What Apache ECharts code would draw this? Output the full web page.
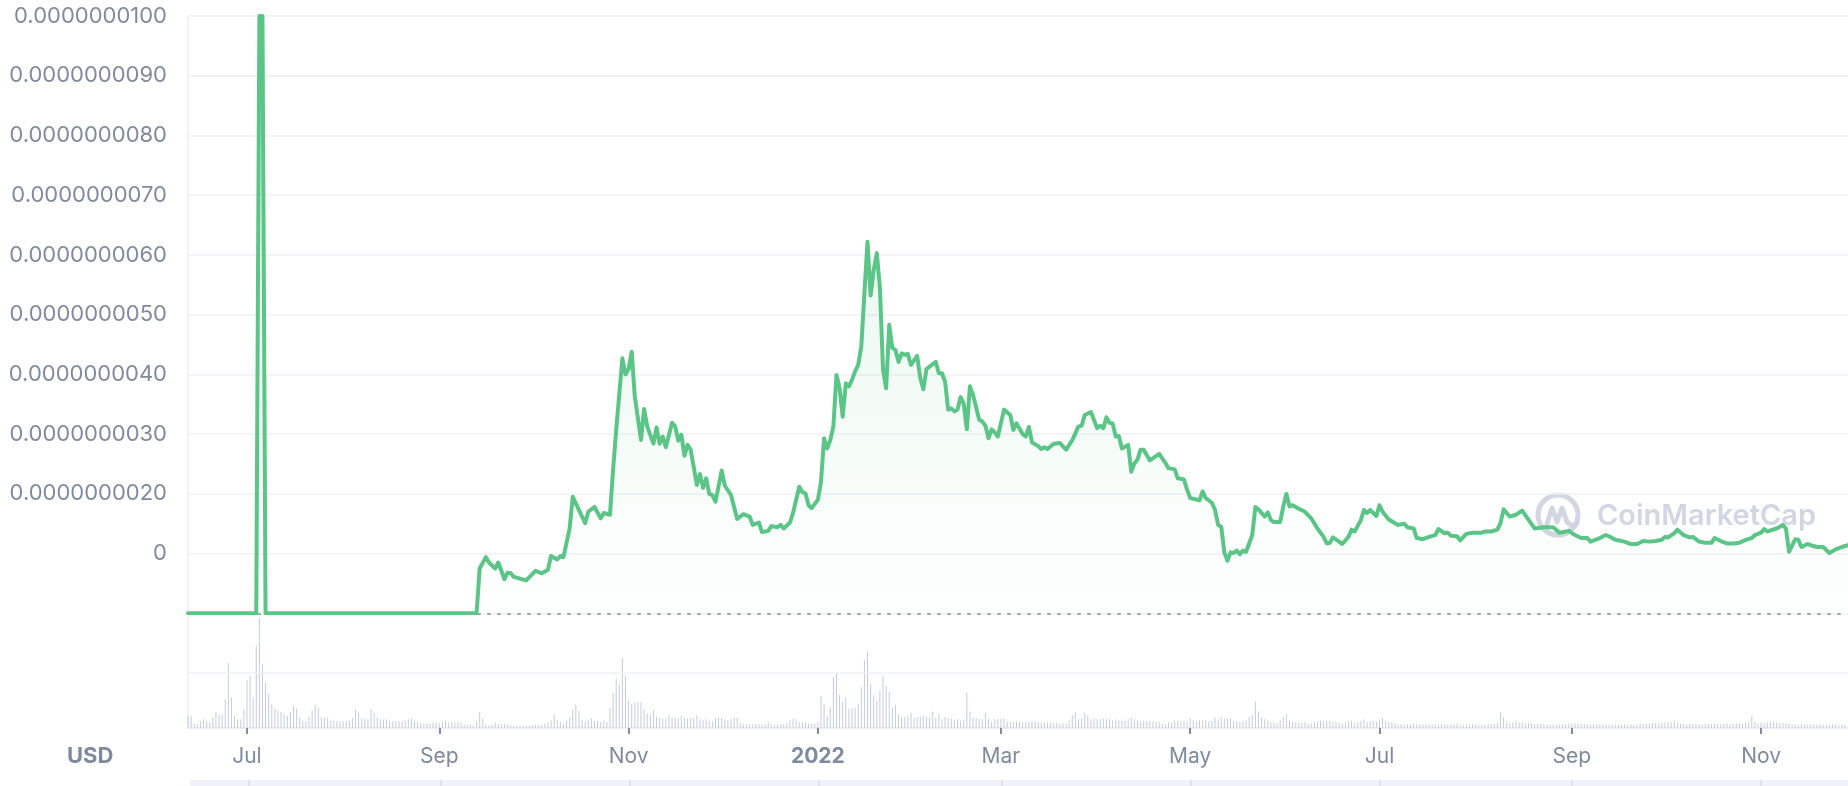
<!DOCTYPE html>
<html><head><meta charset="utf-8">
<script src="https://cdn.jsdelivr.net/npm/echarts@6/dist/echarts.min.js"></script>
<style>html,body{margin:0;padding:0;background:#fff}#c{width:1848px;height:786px}</style>
</head><body><div id="c"></div>
<script>
// Price in units of 1e-9 USD
const priceDates = [
'2021-06-12','2021-07-04','2021-07-05','2021-07-06','2021-07-07','2021-09-13','2021-09-14','2021-09-16','2021-09-17','2021-09-19',
'2021-09-20','2021-09-22','2021-09-23','2021-09-24','2021-09-25','2021-09-29','2021-10-02','2021-10-04','2021-10-06','2021-10-07',
'2021-10-09','2021-10-10','2021-10-11','2021-10-13','2021-10-14','2021-10-18','2021-10-19','2021-10-21','2021-10-23','2021-10-24',
'2021-10-26','2021-10-27','2021-10-28','2021-10-30','2021-10-31','2021-11-01','2021-11-02','2021-11-03','2021-11-05','2021-11-06',
'2021-11-07','2021-11-09','2021-11-10','2021-11-11','2021-11-12','2021-11-13','2021-11-15','2021-11-16','2021-11-17','2021-11-18',
'2021-11-19','2021-11-20','2021-11-21','2021-11-23','2021-11-24','2021-11-25','2021-11-26','2021-11-27','2021-11-28','2021-11-29',
'2021-12-01','2021-12-02','2021-12-04','2021-12-06','2021-12-08','2021-12-10','2021-12-11','2021-12-13','2021-12-14','2021-12-16',
'2021-12-17','2021-12-19','2021-12-20','2021-12-21','2021-12-23','2021-12-24','2021-12-26','2021-12-27','2021-12-28','2021-12-29',
'2021-12-30','2022-01-01','2022-01-02','2022-01-03','2022-01-04','2022-01-05','2022-01-06','2022-01-07','2022-01-08','2022-01-09',
'2022-01-10','2022-01-11','2022-01-12','2022-01-13','2022-01-14','2022-01-15','2022-01-16','2022-01-17','2022-01-18','2022-01-19',
'2022-01-20','2022-01-21','2022-01-22','2022-01-23','2022-01-24','2022-01-25','2022-01-26','2022-01-27','2022-01-28','2022-01-29',
'2022-01-30','2022-01-31','2022-02-02','2022-02-03','2022-02-04','2022-02-05','2022-02-06','2022-02-08','2022-02-09','2022-02-10',
'2022-02-11','2022-02-12','2022-02-13','2022-02-14','2022-02-15','2022-02-16','2022-02-17','2022-02-18','2022-02-19','2022-02-20',
'2022-02-22','2022-02-23','2022-02-24','2022-02-25','2022-02-26','2022-02-27','2022-02-28','2022-03-02','2022-03-04','2022-03-05',
'2022-03-06','2022-03-08','2022-03-09','2022-03-10','2022-03-11','2022-03-13','2022-03-14','2022-03-15','2022-03-16','2022-03-18',
'2022-03-20','2022-03-22','2022-03-24','2022-03-26','2022-03-27','2022-03-28','2022-03-30','2022-04-01','2022-04-02','2022-04-03',
'2022-04-04','2022-04-05','2022-04-06','2022-04-07','2022-04-08','2022-04-09','2022-04-11','2022-04-12','2022-04-13','2022-04-14',
'2022-04-15','2022-04-16','2022-04-18','2022-04-21','2022-04-23','2022-04-24','2022-04-26','2022-04-27','2022-04-29','2022-04-30',
'2022-05-01','2022-05-04','2022-05-05','2022-05-06','2022-05-08','2022-05-09','2022-05-10','2022-05-11','2022-05-12','2022-05-13',
'2022-05-14','2022-05-15','2022-05-16','2022-05-17','2022-05-18','2022-05-19','2022-05-21','2022-05-22','2022-05-23','2022-05-25',
'2022-05-26','2022-05-27','2022-05-28','2022-05-30','2022-05-31','2022-06-01','2022-06-02','2022-06-03','2022-06-05','2022-06-07',
'2022-06-09','2022-06-11','2022-06-13','2022-06-14','2022-06-15','2022-06-16','2022-06-18','2022-06-19','2022-06-21','2022-06-22',
'2022-06-23','2022-06-25','2022-06-26','2022-06-27','2022-06-28','2022-06-30','2022-07-01','2022-07-02','2022-07-04','2022-07-07',
'2022-07-09','2022-07-10','2022-07-12','2022-07-13','2022-07-15','2022-07-17','2022-07-19','2022-07-20','2022-07-22','2022-07-23',
'2022-07-24','2022-07-26','2022-07-27','2022-07-29','2022-07-31','2022-08-03','2022-08-04','2022-08-06','2022-08-08','2022-08-09',
'2022-08-10','2022-08-12','2022-08-14','2022-08-16','2022-08-18','2022-08-20','2022-08-23','2022-08-26','2022-08-28','2022-08-31',
'2022-09-02','2022-09-04','2022-09-06','2022-09-07','2022-09-10','2022-09-12','2022-09-13','2022-09-15','2022-09-18','2022-09-20',
'2022-09-22','2022-09-24','2022-09-26','2022-09-28','2022-09-30','2022-10-01','2022-10-02','2022-10-04','2022-10-05','2022-10-07',
'2022-10-09','2022-10-10','2022-10-12','2022-10-14','2022-10-16','2022-10-17','2022-10-19','2022-10-21','2022-10-23','2022-10-25',
'2022-10-27','2022-10-29','2022-10-30','2022-11-01','2022-11-02','2022-11-03','2022-11-06','2022-11-08','2022-11-09','2022-11-10',
'2022-11-12','2022-11-13','2022-11-14','2022-11-16','2022-11-17','2022-11-19','2022-11-21','2022-11-23','2022-11-25','2022-11-27',
'2022-11-29'
];
const priceValues = [
0,0,10,10,0,0,0.75,0.94,0.85,0.75,
0.85,0.57,0.68,0.67,0.61,0.55,0.71,0.67,0.73,0.96,
0.90,0.96,0.94,1.42,1.95,1.51,1.70,1.78,1.59,1.68,
1.65,2.40,3.07,4.27,4.00,4.09,4.38,3.63,2.90,3.42,
3.13,2.84,3.11,2.84,2.96,2.78,3.19,3.13,2.89,2.99,
2.64,2.82,2.74,2.15,2.33,2.10,2.26,2.00,1.98,1.87,
2.39,2.14,1.98,1.58,1.66,1.62,1.48,1.52,1.36,1.38,
1.46,1.44,1.48,1.42,1.52,1.68,2.12,2.03,2.01,1.81,
1.76,1.90,2.20,2.93,2.76,2.90,3.13,3.99,3.77,3.29,
3.85,3.80,3.91,4.05,4.16,4.47,5.36,6.22,5.32,5.75,
6.03,5.44,4.08,3.77,4.83,4.44,4.41,4.21,4.35,4.33,
4.34,4.16,4.31,3.94,3.75,4.09,4.13,4.21,4.02,4.02,
3.88,3.41,3.43,3.38,3.41,3.62,3.51,3.08,3.80,3.66,
3.24,3.21,3.14,2.93,3.08,3.03,2.96,3.41,3.32,3.07,
3.18,3.00,2.96,3.12,2.86,2.80,2.75,2.78,2.75,2.84,
2.85,2.74,2.90,3.13,3.14,3.32,3.37,3.10,3.14,3.10,
3.28,3.19,3.18,2.96,2.97,2.76,2.82,2.37,2.51,2.57,
2.74,2.74,2.56,2.67,2.52,2.43,2.41,2.26,2.24,2.07,
1.93,1.89,2.04,1.93,1.85,1.73,1.48,1.45,1.02,0.88,
1.02,1.01,1.05,0.99,1.05,1.03,1.31,1.78,1.74,1.62,
1.69,1.56,1.53,1.53,1.79,2.00,1.79,1.81,1.75,1.70,
1.59,1.42,1.28,1.17,1.18,1.27,1.20,1.16,1.28,1.40,
1.37,1.56,1.73,1.68,1.73,1.63,1.81,1.70,1.57,1.48,
1.50,1.44,1.42,1.26,1.24,1.28,1.31,1.41,1.34,1.35,
1.30,1.29,1.22,1.33,1.35,1.35,1.37,1.37,1.40,1.51,
1.74,1.62,1.65,1.72,1.57,1.42,1.44,1.44,1.35,1.38,
1.31,1.26,1.26,1.20,1.26,1.31,1.29,1.23,1.20,1.16,
1.16,1.21,1.20,1.21,1.23,1.28,1.27,1.34,1.40,1.31,
1.27,1.28,1.20,1.18,1.18,1.26,1.21,1.17,1.17,1.18,
1.23,1.26,1.31,1.35,1.41,1.37,1.42,1.48,1.42,1.03,
1.24,1.23,1.11,1.16,1.14,1.11,1.11,1.01,1.07,1.11,
1.14
];
// Daily volume (relative units), first bar on volumeStart
const volumeStart = '2021-06-12';
const volumeValues = [
23,22,8,7,12,16,12,10,20,29, 24,24,52,118,55,22,16,16,34,87, 94,55,149,200,115,82,61,42,34,31,
29,25,22,29,40,35,20,13,12,21, 31,42,37,19,19,18,13,13,13,12, 12,12,13,18,33,28,17,17,16,34,
28,19,16,16,16,12,12,12,12,
12,14,16,17,12,10,10,8,8,8, 10,10,9,11,13,10,11,10,11,10, 7,6,7,5,12,29,17,7,5,6,
10,7,7,7,7,5,5,4,4,4, 4,4,5,6,5,5,8,11,14,25, 14,11,8,13,18,34,42,31,14,12,
14,17,12,13,11,13,11,36,64,90, 78,127,94,50,44,46,46,47,34,26, 24,32,20,18,17,17,23,19,18,17,
22,19,17,18,19,23,16,14,16,13, 12,18,19,18,16,14,16,19,18,10, 7,7,7,7,8,7,7,6,11,7,
6,6,7,7,10,14,17,16,11,10, 10,8,8,8,11,58,44,22,37,92, 100,60,48,56,35,36,36,43,74,122,
139,80,59,49,68,95,77,65,37,42, 25,
20,20,22,28,19,20,20,22,20,19, 30,18,25,16,20,18,17,13,16,13, 16,64,30,19,18,16,16,28,17,11,
16,16,17,17,12,11,11,12,11,10, 12,11,12,12,11,10,10,10,10,8, 10,8,8,8,13,23,28,16,18,28,
23,16,17,16,16,17,16,16,14,16, 14,13,12,16,19,16,13,12,12,12, 12,12,11,11,8,7,10,10,13,14,
12,13,12,17,14,13,14,14,14,12, 13,19,16,19,17,17,17,13,12,11, 12,14,20,23,48,30,18,16,13,11,
10,8,14,20,25,13,11,10,10,10, 11,8,8,11,11,13,12,12,13,11, 11,11,8,10,12,13,8,11,13,16,
11,12,13,12,14,18,13,11,10,8,7,
7,6,7,6,8,7,6,6,7,6, 6,7,6,6,7,6,6,7,8,6, 6,7,6,7,6,6,7,6,8,7, 8,9,
29,19,11,8,10,12,10,10,
8,9,8,7,7,8,7,7,6,7, 6,6,7,7,8,8,9,8,7,7, 6,6,7,7,6,6,7,6,6,
7,6,6,7,6,7,6,7,8,7, 8,8,9,9,8,10,
10,11,11,14,9,8,
7,7,8,7,8,7,7,8,7,7, 8,7,7,8,8,7,8,8,9,8, 10,11,
22,12,
8,10,9,10,10,11,10,9,9,8, 8,7,7,6,7,6,6,7,6,6, 7,6,6,6,7,6,6,7,6
];
const tickDates = ['2021-07-01','2021-09-01','2021-11-01','2022-01-01','2022-03-01','2022-05-01','2022-07-01','2022-09-01','2022-11-01'];
const tickLabels = ['Jul','Sep','Nov','2022','Mar','May','Jul','Sep','Nov'];
const yTickLabels = ['', '0', '0.0000000020', '0.0000000030', '0.0000000040', '0.0000000050', '0.0000000060', '0.0000000070', '0.0000000080', '0.0000000090', '0.0000000100'];
const axisStart = '2021-06-12';
const axisEnd = '2022-11-29';

const ts = s => new Date(s + 'T00:00:00').getTime();
const tickTs = tickDates.map(ts);
const priceData = priceDates.map((d, i) => [ts(d), priceValues[i]]);
const vs = new Date(volumeStart + 'T00:00:00');
const volumeData = volumeValues.map((v, i) => [new Date(vs.getFullYear(), vs.getMonth(), vs.getDate() + i).getTime(), v]);
const xMin = ts(axisStart), xMax = ts(axisEnd);

const GREEN = '#5bc487';
const LABEL = '#808a9d';
const GRID = '#eff1f5';
const FONT = 'Inter, "Noto Sans", sans-serif';

function tickLabel(v) {
  let best = -1, bd = Infinity;
  tickTs.forEach((t, i) => { const d = Math.abs(t - v); if (d < bd) { bd = d; best = i; } });
  if (best < 0 || bd > 43200000) return '';
  const t = tickLabels[best];
  return t === '2022' ? '{b|' + t + '}' : t;
}

const chart = echarts.init(document.getElementById('c'), null, {renderer: 'canvas'});
chart.setOption({
  animation: false,
  backgroundColor: '#fff',
  textStyle: {fontFamily: FONT},
  grid: [
    {left: 188, right: 0, top: 16, height: 597.3},
    {left: 188, right: 0, top: 613.3, height: 114.7},
    {left: 190, right: -2, top: 780, height: 6, show: true, backgroundColor: '#eff2fb', borderWidth: 0}
  ],
  xAxis: [
    {gridIndex: 0, type: 'value', min: xMin, max: xMax, scale: true,
     axisLine: {show: true, onZero: false, lineStyle: {color: '#9fa5b5', width: 2, type: [2, 8]}},
     axisTick: {show: false}, axisLabel: {show: false}, splitLine: {show: false}},
    {gridIndex: 1, type: 'value', min: xMin, max: xMax, scale: true,
     axisLine: {show: true, onZero: false, lineStyle: {color: '#e6e9f0', width: 1.5}},
     axisTick: {show: true, customValues: tickTs, length: 6, lineStyle: {color: '#858ca2', width: 2}},
     axisLabel: {show: true, customValues: tickTs, margin: 18, color: LABEL, fontSize: 21, fontFamily: FONT,
       formatter: tickLabel,
       rich: {b: {fontWeight: 'bold', fontSize: 21, color: LABEL, fontFamily: FONT}}},
     splitLine: {show: false}},
    {gridIndex: 2, type: 'value', min: xMin, max: xMax, scale: true,
     axisLine: {show: false}, axisLabel: {show: false}, splitLine: {show: false},
     axisTick: {show: true, inside: true, customValues: tickTs, length: 6, lineStyle: {color: '#d9ddea', width: 1.5}}}
  ],
  yAxis: [
    {gridIndex: 0, type: 'value', min: 0, max: 10, interval: 1,
     axisLine: {show: true, lineStyle: {color: GRID, width: 1.5}},
     axisTick: {show: false},
     axisLabel: {color: LABEL, fontSize: 22, fontFamily: FONT, margin: 21, formatter: v => yTickLabels[Math.round(v)]},
     splitLine: {show: true, lineStyle: {color: GRID, width: 1.5}}},
    {gridIndex: 1, type: 'value', min: 0, max: 207.4,
     axisLine: {show: true, lineStyle: {color: GRID, width: 1.5}},
     axisTick: {show: false}, axisLabel: {show: false}, splitLine: {show: false}},
    {gridIndex: 2, type: 'value', show: false}
  ],
  series: [
    {type: 'bar', xAxisIndex: 1, yAxisIndex: 1, data: volumeData, barWidth: 1,
     itemStyle: {color: '#c6cbdb'}, silent: true,
     markLine: {silent: true, symbol: 'none', label: {show: false}, lineStyle: {color: GRID, width: 1.5, type: 'solid'}, data: [{yAxis: 100}]}},
    {type: 'line', xAxisIndex: 0, yAxisIndex: 0, data: priceData, showSymbol: false, symbol: 'none',
     lineStyle: {color: GREEN, width: 4, join: 'round', cap: 'round'},
     areaStyle: {origin: 'start', color: {type: 'linear', global: true, x: 0, y: 230, x2: 0, y2: 613,
       colorStops: [{offset: 0, color: 'rgba(92,196,135,0.17)'}, {offset: 1, color: 'rgba(92,196,135,0.01)'}]}},
     z: 3}
  ],
  graphic: [
    {type: 'text', left: 67, top: 745, style: {text: 'USD', fill: LABEL, font: 'bold 22px ' + FONT}},
    {type: 'group', x: 1558, y: 515, z: 100, children: [
      {type: 'circle', shape: {cx: 0, cy: 0, r: 20}, style: {fill: 'none', stroke: 'rgba(205,210,224,0.9)', lineWidth: 5}},
      {type: 'polyline', shape: {points: [[-11, 9], [-6, -7], [-1, 7], [4, -7], [9, 7], [14, 11], [19, 8]]},
       style: {fill: 'none', stroke: 'rgba(205,210,224,0.9)', lineWidth: 5, lineJoin: 'round', lineCap: 'round'}}
    ]},
    {type: 'text', x: 1597, y: 516, z: 100, style: {text: 'CoinMarketCap', fill: 'rgba(205,210,224,0.9)', font: '600 29px ' + FONT, verticalAlign: 'middle'}}
  ]
});
</script></body></html>
